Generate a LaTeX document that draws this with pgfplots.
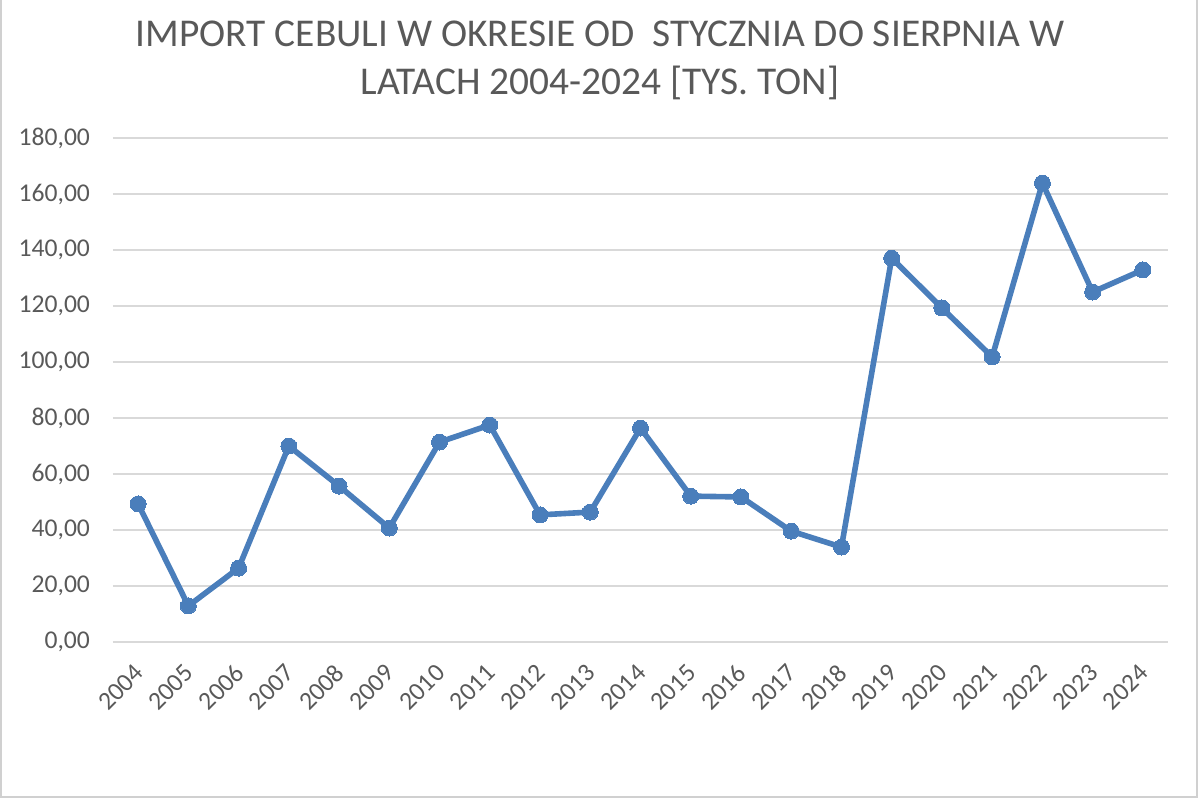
\documentclass[border=0pt]{standalone}
\usepackage{pgfplots}
\pgfplotsset{compat=1.18}
\usepackage{fontspec}
\setmainfont{Carlito}
\definecolor{lineblue}{HTML}{4A7EBB}
\definecolor{gridgray}{HTML}{D9D9D9}
\definecolor{txtgray}{HTML}{595959}
\definecolor{bordergray}{HTML}{D0D0D0}
\begin{document}
\begin{tikzpicture}
\path[use as bounding box] (0,0) rectangle (600pt,400pt);
\draw[bordergray, line width=1pt] (0.5pt,400pt) -- (0.5pt,1.5pt) -- (598.5pt,1.5pt) -- (598.5pt,400pt);
\node[font=\fontsize{19.7}{24}\selectfont, text=txtgray, align=center] at (300pt,370pt)
  {IMPORT CEBULI W OKRESIE OD\ \ STYCZNIA DO SIERPNIA W\\LATACH 2004-2024 [TYS. TON]};
\begin{axis}[
  at={(56.5pt,79pt)}, anchor=south west,
  scale only axis, width=527.5pt, height=252pt,
  xmin=2003.5, xmax=2024.5, ymin=0, ymax=180,
  axis line style={draw=none},
  major tick length=0pt,
  xtick={2004,...,2024},
  xticklabels={2004,2005,2006,2007,2008,2009,2010,2011,2012,2013,2014,2015,2016,2017,2018,2019,2020,2021,2022,2023,2024},
  ytick={0,20,...,180},
  ymajorgrids, major grid style={gridgray, line width=0.75pt},
  tick label style={font=\fontsize{12.8}{14}\selectfont, text=txtgray},
  yticklabel style={/pgf/number format/fixed, /pgf/number format/fixed zerofill, /pgf/number format/precision=2, /pgf/number format/use comma, /pgf/number format/1000 sep={}, /pgf/number format/assume math mode=true, xshift=-8pt},
  xticklabel style={yshift=-11pt, xshift=3pt, rotate=45, anchor=east},
  clip=false,
]
\addplot[lineblue, line width=2.8pt, mark=*, mark size=4pt, mark options={fill=lineblue, draw=lineblue, line width=0pt}] coordinates {
(2004,49.3) (2005,12.9) (2006,26.4) (2007,70.0) (2008,55.7) (2009,40.7)
(2010,71.4) (2011,77.5) (2012,45.4) (2013,46.4) (2014,76.4) (2015,52.1)
(2016,51.8) (2017,39.6) (2018,33.9) (2019,137.1) (2020,119.3) (2021,101.8)
(2022,163.9) (2023,125.0) (2024,132.9)
};
\end{axis}
\end{tikzpicture}
\end{document}
